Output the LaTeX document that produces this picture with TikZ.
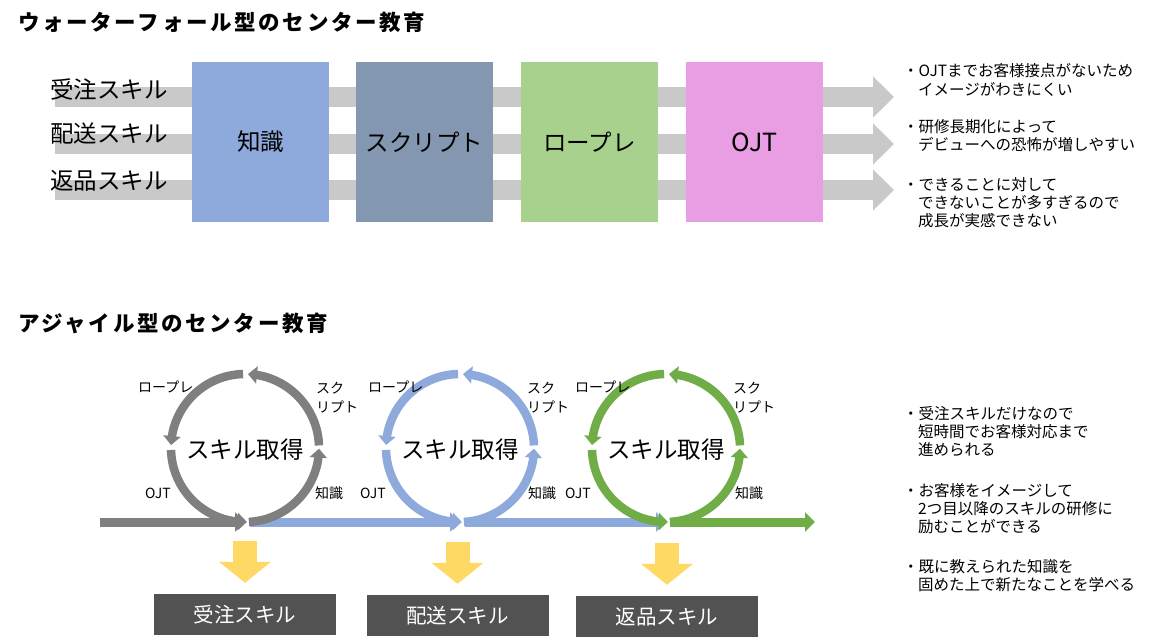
\documentclass[tikz,border=0pt]{standalone}
\usepackage{fontspec}
\setmainfont{Noto Sans CJK JP}
\newfontfamily\titlefont{Noto Sans CJK JP}[LetterSpace=12.5]
\usetikzlibrary{arrows.meta,bending}
\definecolor{barg}{HTML}{C9C9C9}
\definecolor{kblue}{HTML}{8EA9DB}
\definecolor{kslate}{HTML}{8497B0}
\definecolor{kgreen}{HTML}{A9D18E}
\definecolor{kpink}{HTML}{E99DE2}
\definecolor{cgray}{HTML}{7F7F7F}
\definecolor{cblue}{HTML}{8EA9DB}
\definecolor{cgreen}{HTML}{70AD47}
\definecolor{kyellow}{HTML}{FFD966}
\definecolor{kdark}{HTML}{525252}
\tikzset{
  flowbar/.style={line width=20pt, draw=barg, -{Triangle[width=40pt,length=21pt]}},
  stage/.style={minimum width=137pt, minimum height=160pt, inner sep=0pt, font=\fontsize{23.5}{27}\selectfont},
  arcpath/.style={line width=8.5pt, -{Triangle[width=17pt,length=9pt]}},
  hbar/.style={line width=9pt, -{Triangle[width=19pt,length=10pt]}},
  yarrow/.style={line width=24pt, draw=kyellow, -{Triangle[width=51pt,length=21pt]}},
  skillbox/.style={fill=kdark, text=white, minimum width=182pt, minimum height=41pt, inner sep=0pt, font=\fontsize{20.5}{24}\selectfont},
  note/.style={anchor=west, inner sep=0pt, font=\fontsize{15.5}{18}\selectfont},
  arclabel/.style={anchor=west, inner sep=0pt, font=\fontsize{14}{17}\selectfont},
  rowlabel/.style={anchor=west, inner sep=0pt, font=\fontsize{23.5}{27}\selectfont},
  cyclelabel/.style={inner sep=0pt, font=\fontsize{23.5}{27}\selectfont},
  heading/.style={anchor=west, inner sep=0pt, font=\titlefont\bfseries\fontsize{21.5}{25}\selectfont}
}
\begin{document}
\begin{tikzpicture}[x=1pt,y=1pt]
\useasboundingbox (0,0) rectangle (1154,-643);
% ---------- Waterfall ----------
\node[heading] (t1) at (18,-22) {ウォーターフォール型のセンター教育};
\coordinate (r1s) at (55,-97);  \coordinate (r1e) at (894,-97);
\coordinate (r2s) at (55,-144); \coordinate (r2e) at (894,-144);
\coordinate (r3s) at (55,-190); \coordinate (r3e) at (894,-190);
\draw[flowbar] (r1s) -- (r1e);
\draw[flowbar] (r2s) -- (r2e);
\draw[flowbar] (r3s) -- (r3e);
\node[rowlabel] (l1) at (50,-89) {受注スキル};
\node[rowlabel] (l2) at (50,-134) {配送スキル};
\node[rowlabel] (l3) at (50,-181) {返品スキル};
\node[stage, fill=kblue] (s1) at (260.5,-142) {知識};
\node[stage, fill=kslate] (s2) at (424.5,-142) {スクリプト};
\node[stage, fill=kgreen] (s3) at (589.5,-142) {ロープレ};
\node[stage, fill=kpink, font=\fontsize{25}{28}\selectfont] (s4) at (754.5,-142) {OJT};
\node[note] (n1a) at (903,-71) {・OJTまでお客様接点がないため};
\node[note] (n1b) at (918,-89) {イメージがわきにくい};
\node[note] (n2a) at (903,-127) {・研修長期化によって};
\node[note] (n2b) at (918,-145) {デビューへの恐怖が増しやすい};
\node[note] (n3a) at (903,-185) {・できることに対して};
\node[note] (n3b) at (918,-203) {できないことが多すぎるので};
\node[note] (n3c) at (918,-221) {成長が実感できない};
% ---------- Agile ----------
\node[heading] (t2) at (18,-323) {アジャイル型のセンター教育};
\coordinate (c1) at (245,-448);
\coordinate (c2) at (460,-448);
\coordinate (c3) at (666,-448);
\coordinate (h0) at (100,-522);
\coordinate (h1) at (245,-522);
\coordinate (h1b) at (250,-522);
\coordinate (h2) at (460,-522);
\coordinate (h2b) at (465,-522);
\coordinate (h3) at (666,-522);
\coordinate (h3b) at (670,-522);
\coordinate (h4) at (815,-522);
\draw[hbar, cgray] (h0) -- (h1);
\draw[hbar, cblue] (h1b) -- (h2);
\draw[hbar, cblue] (h2b) -- (h3);
\draw[hbar, cgreen] (h3b) -- (h4);
\foreach \c/\col in {c1/cgray, c2/cblue, c3/cgreen}{
  \draw[arcpath, \col] ([shift={(273:74pt)}]\c) arc[start angle=273, end angle=359.5, radius=74pt];
  \draw[arcpath, \col] ([shift={(2:74pt)}]\c) arc[start angle=2, end angle=87.7, radius=74pt];
  \draw[arcpath, \col] ([shift={(91.5:74pt)}]\c) arc[start angle=91.5, end angle=177.7, radius=74pt];
  \draw[arcpath, \col] ([shift={(181.5:74pt)}]\c) arc[start angle=181.5, end angle=271.5, radius=74pt];
}
\node[cyclelabel] (k1) at (245,-450) {スキル取得};
\node[cyclelabel] (k2) at (460,-450) {スキル取得};
\node[cyclelabel] (k3) at (666,-450) {スキル取得};
% labels gray
\node[arclabel] (g1) at (138,-387) {ロープレ};
\node[arclabel] (g2) at (316,-388) {スク};
\node[arclabel] (g3) at (316,-407) {リプト};
\node[arclabel] (g4) at (145,-493) {OJT};
\node[arclabel] (g5) at (315,-493) {知識};
% labels blue
\node[arclabel] (b1) at (368,-387) {ロープレ};
\node[arclabel] (b2) at (527,-388) {スク};
\node[arclabel] (b3) at (527,-407) {リプト};
\node[arclabel] (b4) at (360,-493) {OJT};
\node[arclabel] (b5) at (528,-493) {知識};
% labels green
\node[arclabel] (e1) at (575,-387) {ロープレ};
\node[arclabel] (e2) at (733,-388) {スク};
\node[arclabel] (e3) at (733,-407) {リプト};
\node[arclabel] (e4) at (565,-493) {OJT};
\node[arclabel] (e5) at (735,-493) {知識};
% skill boxes
\node[skillbox] (sk1) at (245,-614.5) {受注スキル};
\node[skillbox] (sk2) at (457.5,-615.5) {配送スキル};
\node[skillbox] (sk3) at (667,-616.5) {返品スキル};
\coordinate (y1) at (245,-541);
\coordinate (y2) at (457.5,-542);
\coordinate (y3) at (667,-543);
\draw[yarrow] (y1) -- ([yshift=11pt]sk1.north);
\draw[yarrow] (y2) -- ([yshift=11pt]sk2.north);
\draw[yarrow] (y3) -- ([yshift=11pt]sk3.north);
% notes
\node[note] (m1a) at (903,-414) {・受注スキルだけなので};
\node[note] (m1b) at (918,-432) {短時間でお客様対応まで};
\node[note] (m1c) at (918,-450) {進められる};
\node[note] (m2a) at (903,-491) {・お客様をイメージして};
\node[note] (m2b) at (918,-509) {2つ目以降のスキルの研修に};
\node[note] (m2c) at (918,-527) {励むことができる};
\node[note] (m3a) at (903,-567) {・既に教えられた知識を};
\node[note] (m3b) at (918,-585) {固めた上で新たなことを学べる};
\end{tikzpicture}
\end{document}
